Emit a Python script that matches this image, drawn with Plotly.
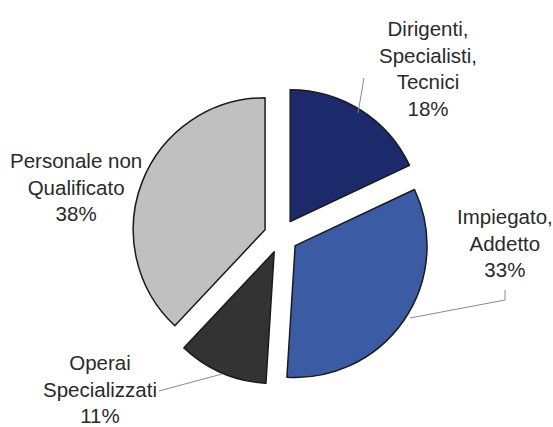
import plotly.graph_objects as go

# dati
categorie = ["Dirigenti,<br>Specialisti,<br>Tecnici", "Impiegato,<br>Addetto",
             "Operai<br>Specializzati", "Personale non<br>Qualificato"]
valori = [18, 33, 11, 38]
colori = ["#1c2a6b", "#3b5ba4", "#333333", "#c0c0c0"]

# posizione delle etichette (px) e linee guida
pos_etichette = [(428, 69), (505, 243), (100, 389), (76, 187)]
linee_guida = [
    [(364, 78), (358, 113)],
    [(505, 290), (505, 300), (410, 318)],
    [(159, 391), (222, 374)],
]

W, H = 553, 427
tot = sum(valori)

fig = go.Figure(go.Pie(
    labels=categorie,
    values=valori,
    sort=False,
    direction="clockwise",
    rotation=0,
    pull=[0.13] * len(valori),
    marker=dict(colors=colori, line=dict(color="#1a1a1a", width=1.5)),
    textinfo="none",
    hoverinfo="label+percent",
    domain=dict(x=[132 / W, 430 / W], y=[(H - 385) / H, (H - 87) / H]),
))

for lab, v, (px_, py_) in zip(categorie, valori, pos_etichette):
    fig.add_annotation(
        x=px_ / W, y=1 - py_ / H, xref="paper", yref="paper",
        text=f"{lab}<br>{round(v / tot * 100)}%",
        showarrow=False, xanchor="center", yanchor="middle",
        font=dict(family="Liberation Sans, Arial", size=20.5, color="#2a2a2a"),
    )

for pts in linee_guida:
    path = "M " + " L ".join(f"{x / W},{1 - y / H}" for x, y in pts)
    fig.add_shape(type="path", path=path, xref="paper", yref="paper",
                  line=dict(color="#8a8a8a", width=1))

fig.update_layout(
    width=W, height=H,
    margin=dict(l=0, r=0, t=0, b=0),
    showlegend=False,
    paper_bgcolor="white",
)

# niente margine della pagina, così la figura parte da (0, 0)
fig.write_html("out.html", config={"displayModeBar": False},
               post_script="document.body.style.margin='0';")
